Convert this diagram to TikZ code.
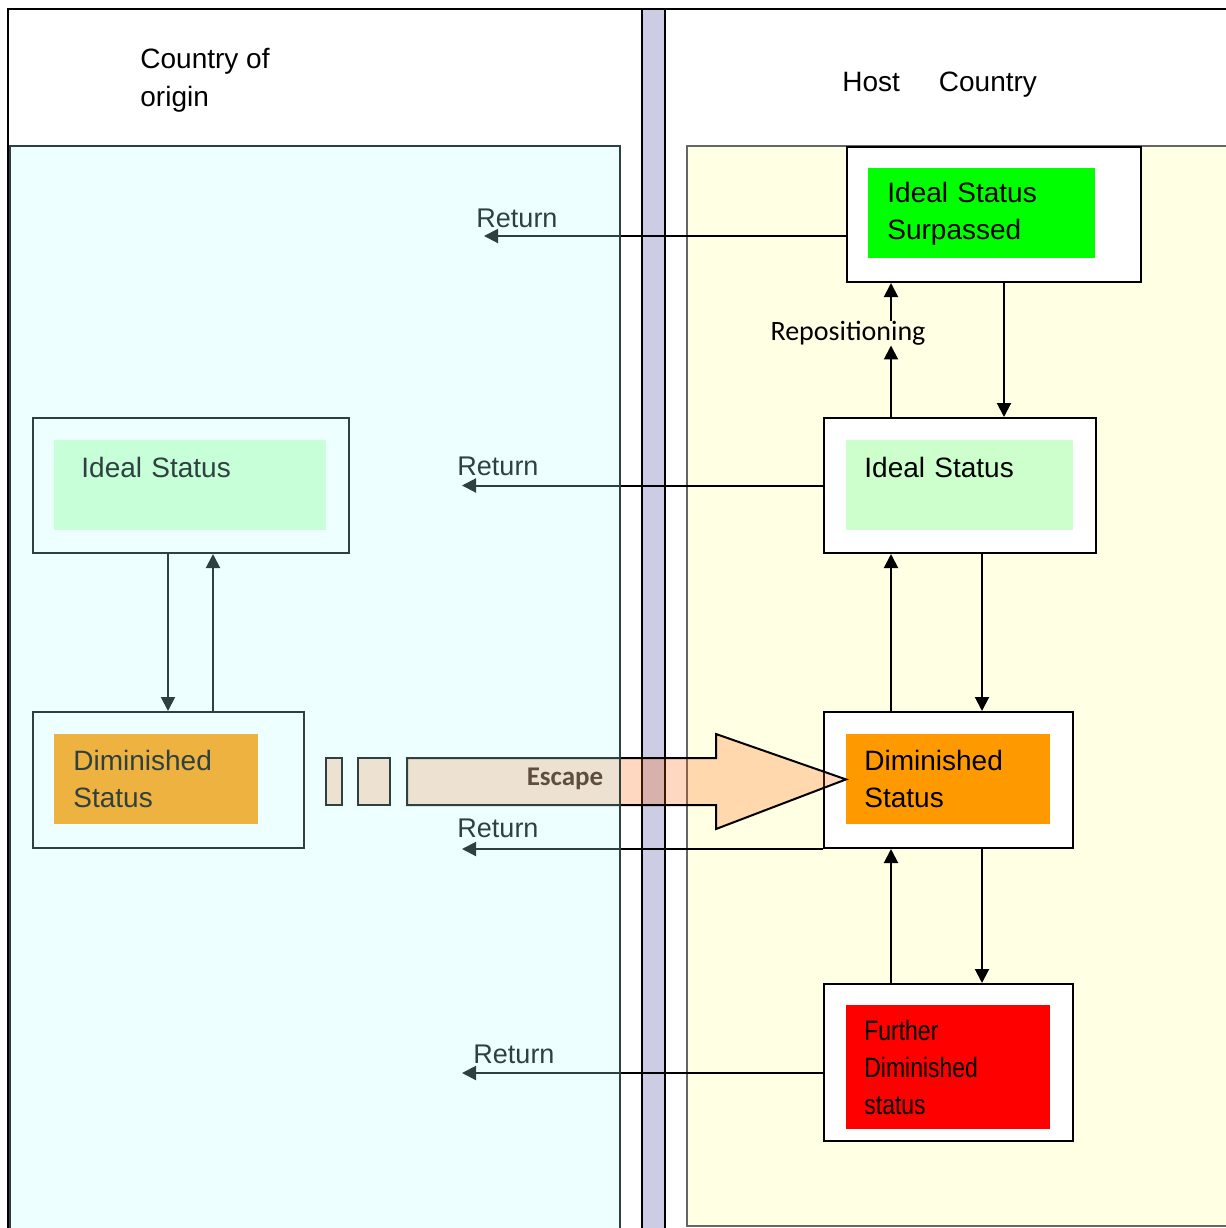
\documentclass[tikz,border=0pt]{standalone}
\usepackage{fontspec}
\setmainfont{Liberation Sans}
\newfontfamily\calibri{Carlito}
\usetikzlibrary{arrows.meta,positioning,calc}
\definecolor{originCyan}{RGB}{186,255,255}
\definecolor{hostYellow}{RGB}{255,255,228}
\definecolor{borderBar}{RGB}{204,204,228}
\definecolor{idealGreen}{RGB}{204,255,204}
\definecolor{surpGreen}{RGB}{0,255,0}
\definecolor{dimOrange}{RGB}{255,153,0}
\definecolor{furtherRed}{RGB}{255,0,0}
\definecolor{escOrange}{RGB}{255,92,0}
\definecolor{escText}{RGB}{64,20,0}
\definecolor{panelEdge}{RGB}{46,64,64}

\begin{document}
\begin{tikzpicture}[x=0.5pt,y=-0.5pt,>={Triangle[length=7pt,width=7pt]},
  outbox/.style={draw,fill=white,line width=1pt,anchor=north west,inner sep=0pt},
  inbox/.style={anchor=north west,inner ysep=0pt,align=left,minimum height=45pt,font=\fontsize{14}{18.5}\selectfont},
  link/.style={->,line width=1pt},
  retlab/.style={font=\fontsize{13.5}{16}\selectfont,inner sep=0pt},
  headtext/.style={font=\fontsize{14}{19}\selectfont,inner sep=0pt},
  escshape/.style={fill=escOrange,fill opacity=0.24,draw=black,line width=1pt}]
\useasboundingbox (0,0) rectangle (1226,1228);
\fill[white] (0,0) rectangle (1226,1228);
% frame, host panel and border
\draw[line width=1.2pt] (8,1240) -- (8,9) -- (1240,9);
\draw[fill=hostYellow,draw=black!60,line width=0.8pt] (687,146) rectangle (1240,1226);
\draw[fill=borderBar,line width=1.2pt] (642,9) rectangle (665,1240);

% host country
\node[outbox,minimum width=147pt,minimum height=67.5pt] (surpOut) at (846,146) {};
\node[inbox,fill=surpGreen,inner xsep=9.5pt,text width=94.5pt] (surpIn) at ([shift={(22,22)}]surpOut.north west) {Ideal Status\\Surpassed};
\node[outbox,minimum width=136pt,minimum height=67.5pt] (idealROut) at (823,417) {};
\node[inbox,fill=idealGreen,inner xsep=9pt,text width=95.5pt] (idealRIn) at ([shift={(23,23)}]idealROut.north west) {Ideal Status\\\mbox{}};
\node[outbox,minimum width=124.5pt,minimum height=68pt] (dimROut) at (823,711) {};
\node[inbox,fill=dimOrange,inner xsep=9pt,text width=84pt] (dimRIn) at ([shift={(23,23)}]dimROut.north west) {Diminished\\Status};
\node[outbox,minimum width=124.5pt,minimum height=78.5pt] (furtherOut) at (823,983) {};
\node[inbox,fill=furtherRed,inner xsep=9pt,text width=84pt,minimum height=62pt] (furtherIn) at ([shift={(23,22)}]furtherOut.north west) {\scalebox{0.82}[1]{Further}\\\scalebox{0.82}[1]{Diminished}\\\scalebox{0.82}[1]{status}};

% country of origin
\node[outbox,fill=none,minimum width=158pt,minimum height=67.5pt] (idealLOut) at (32,417) {};
\node[inbox,fill=idealGreen,inner xsep=13.5pt,text width=109pt] (idealLIn) at ([shift={(22,23)}]idealLOut.north west) {Ideal Status\\\mbox{}};
\node[outbox,fill=none,minimum width=135.5pt,minimum height=68pt] (dimLOut) at (32,711) {};
\node[inbox,fill=dimOrange,inner xsep=9.5pt,text width=83pt] (dimLIn) at ([shift={(22,23)}]dimLOut.north west) {Diminished\\Status};

% columns of the arrows
\coordinate (upcol) at (891,0);
\coordinate (downcol) at (982,0);
\coordinate (topdown) at (1004,0);
\coordinate (ldowncol) at (168,0);
\coordinate (lupcol) at (213,0);

\node[inner sep=0pt,font=\calibri\fontsize{14}{17}\selectfont] (repos) at (848,333) {Repositioning};
\draw[link] (idealROut.north -| upcol) -- (upcol |- repos.south);
\draw[link] (upcol |- repos.north) -- (surpOut.south -| upcol);
\draw[link] (surpOut.south -| topdown) -- (idealROut.north -| topdown);
\draw[link] (dimROut.north -| upcol) -- (idealROut.south -| upcol);
\draw[link] (idealROut.south -| downcol) -- (dimROut.north -| downcol);
\draw[link] (furtherOut.north -| upcol) -- (dimROut.south -| upcol);
\draw[link] (dimROut.south -| downcol) -- (furtherOut.north -| downcol);
\draw[link] (idealLOut.south -| ldowncol) -- (dimLOut.north -| ldowncol);
\draw[link] (dimLOut.north -| lupcol) -- (idealLOut.south -| lupcol);

% return
\coordinate (retA) at (484,236);
\coordinate (retB) at (462,485);
\coordinate (retC) at (462,847);
\coordinate (retD) at (462,1073);
\draw[link] (surpOut.west |- retA) -- (retA);
\draw[link] (idealROut.west) -- (idealROut.west -| retB);
\draw[link] (dimROut.south west) -- (dimROut.south west -| retC);
\draw[link] (furtherOut.west |- retD) -- (retD);
\node[retlab] (retlabA) at (517,218) {Return};
\node[retlab] (retlabB) at (498,466) {Return};
\node[retlab] (retlabC) at (498,828) {Return};
\node[retlab] (retlabD) at (514,1054) {Return};

% escape
\draw[escshape] (326,758) rectangle (342,805);
\draw[escshape] (358,758) rectangle (390,805);
\draw[escshape] (407,758) -- (716,758) -- (716,734) -- (dimRIn.west) -- (716,829) -- (716,805) -- (407,805) -- cycle;
\node[inner sep=0pt,text=escText,font=\calibri\bfseries\fontsize{13.5}{16}\selectfont] (esclab) at (565,779) {Escape};

% origin panel laid over
\draw[fill=originCyan,fill opacity=0.25,draw=panelEdge,line width=0.8pt] (10,146) rectangle (620,1240);

\node[headtext,anchor=west,align=left] (originlab) at (140,80) {Country of\\origin};
\node[headtext,anchor=west] (hostlab) at (842,85) {Host\hspace{19.5pt}Country};
\end{tikzpicture}
\end{document}
